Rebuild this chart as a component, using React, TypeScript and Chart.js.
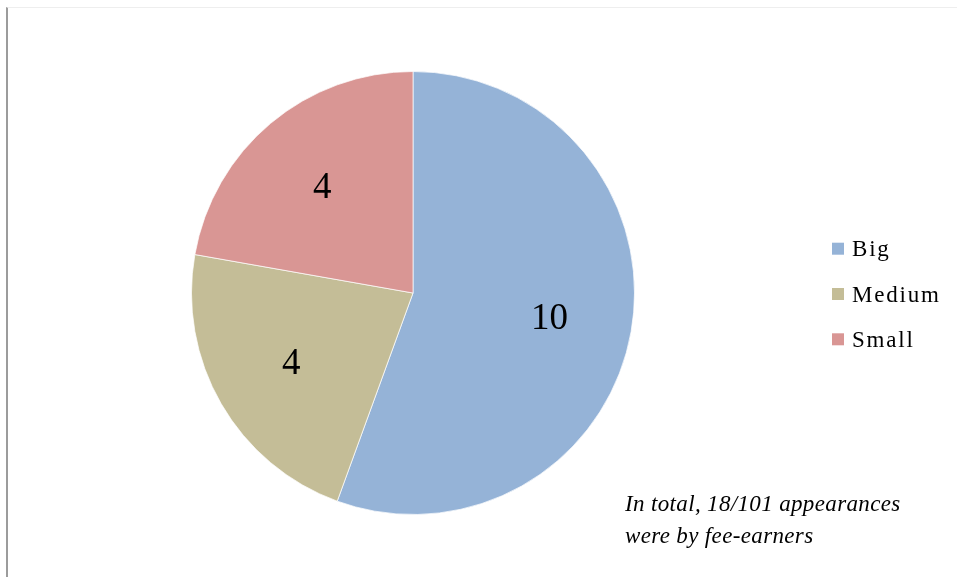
import React, { useEffect, useRef } from "react";
import { Chart, registerables } from "chart.js";

Chart.register(...registerables);

const categories = ["Big", "Medium", "Small"];
const values = [10, 4, 4];
const colors = ["#95B3D7", "#C4BD97", "#D99694"];
const noteLines = ["In total, 18/101 appearances", "were by fee-earners"];

const SERIF = '"Liberation Serif", "Times New Roman", serif';

const sliceLabels = {
  id: "sliceLabels",
  afterDatasetsDraw(chart: any) {
    const ctx = chart.ctx;
    const meta = chart.getDatasetMeta(0);
    ctx.save();
    ctx.fillStyle = "#000";
    ctx.font = `37px ${SERIF}`;
    ctx.textAlign = "center";
    ctx.textBaseline = "middle";
    meta.data.forEach((arc: any, i: number) => {
      const p = arc.getProps(["x", "y", "startAngle", "endAngle", "outerRadius"], true);
      const mid = (p.startAngle + p.endAngle) / 2;
      const r = p.outerRadius * 0.63;
      ctx.fillText(String(chart.data.datasets[0].data[i]), p.x + Math.cos(mid) * r - 1, p.y + Math.sin(mid) * r + 2);
    });
    ctx.restore();
  },
};

const sideLegend = {
  id: "sideLegend",
  afterDraw(chart: any) {
    const ctx = chart.ctx;
    const labels = chart.data.labels as string[];
    const bg = chart.data.datasets[0].backgroundColor as string[];
    ctx.save();
    ctx.font = `23px ${SERIF}`;
    (ctx as any).letterSpacing = "1.8px";
    ctx.textAlign = "left";
    ctx.textBaseline = "alphabetic";
    labels.forEach((lab, i) => {
      const cy = 248.7 + i * 45.3;
      ctx.fillStyle = bg[i];
      ctx.fillRect(832, cy - 6, 12, 12);
      ctx.fillStyle = "#000";
      ctx.fillText(lab, 852, cy + 7.5);
    });
    ctx.restore();
  },
};

const note = {
  id: "note",
  afterDraw(chart: any) {
    const ctx = chart.ctx;
    ctx.save();
    ctx.font = `italic 23px ${SERIF}`;
    (ctx as any).letterSpacing = "0.35px";
    ctx.fillStyle = "#000";
    ctx.textAlign = "left";
    ctx.textBaseline = "alphabetic";
    noteLines.forEach((t, i) => ctx.fillText(t, 625, 510.7 + i * 32));
    ctx.restore();
  },
};

export default function App() {
  const ref = useRef<HTMLCanvasElement | null>(null);
  useEffect(() => {
    if (!ref.current) return;
    const chart = new Chart(ref.current, {
      type: "pie",
      data: {
        labels: categories,
        datasets: [
          {
            data: values,
            backgroundColor: colors,
            borderColor: "rgba(255,255,255,0.7)",
            borderWidth: 1,
          },
        ],
      },
      options: {
        responsive: false,
        animation: false,
        layout: { padding: { left: 191, right: 322, top: 71, bottom: 62 } },
        plugins: {
          legend: { display: false },
          tooltip: { enabled: false },
        },
      },
      plugins: [sliceLabels, sideLegend, note],
    });
    return () => chart.destroy();
  }, []);

  return (
    <div style={{ position: "fixed", left: 0, top: 0, width: 957, height: 577, background: "#fff", overflow: "hidden" }}>
      <div
        style={{
          position: "absolute",
          left: 6,
          top: 7,
          width: 951,
          height: 570,
          borderLeft: "2px solid #9c9c9c",
          borderTop: "1px solid #eeeeee",
          boxSizing: "border-box",
        }}
      />
      <canvas ref={ref} width={957} height={577} style={{ position: "absolute", left: 0, top: 0 }} />
    </div>
  );
}
